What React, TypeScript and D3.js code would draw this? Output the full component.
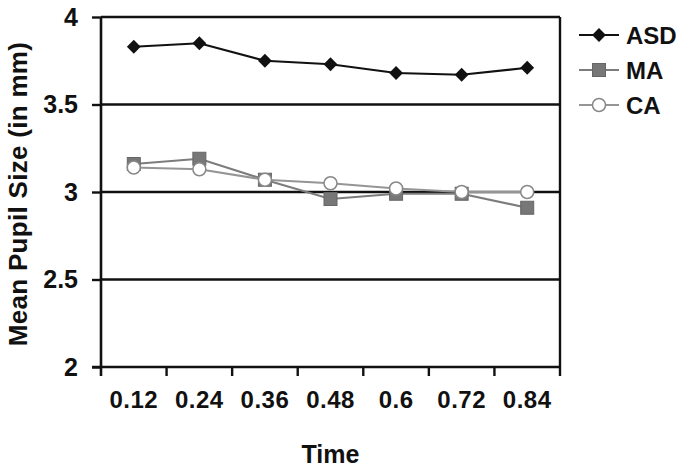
import React, { useRef, useEffect } from 'react';
import * as d3 from 'd3';

const times = ['0.12', '0.24', '0.36', '0.48', '0.6', '0.72', '0.84'];
const asd = [3.83, 3.85, 3.75, 3.73, 3.68, 3.67, 3.71];
const ma = [3.16, 3.19, 3.07, 2.96, 2.99, 2.99, 2.91];
const ca = [3.14, 3.13, 3.07, 3.05, 3.02, 3.0, 3.0];
const yTicks = [2, 2.5, 3, 3.5, 4];
const seriesNames = ['ASD', 'MA', 'CA'];

const W = 685;
const H = 471;
const margin = { left: 101, right: 125, top: 17, bottom: 104 };
const FONT = 'Arial, "Liberation Sans", Helvetica, sans-serif';

const App = () => {
    const chartRef = useRef<SVGSVGElement | null>(null);

    useEffect(() => {
        const svg = d3.select(chartRef.current);
        svg.selectAll('*').remove();

        const x = d3.scaleBand<string>()
            .domain(times)
            .range([margin.left, W - margin.right])
            .padding(0);

        const y = d3.scaleLinear()
            .domain([2, 4])
            .range([H - margin.bottom, margin.top]);

        const cx = (t: string) => (x(t) as number) + x.bandwidth() / 2;

        // gridlines + right border
        svg.append('g')
            .selectAll('line')
            .data(yTicks.filter(t => t > 2))
            .join('line')
            .attr('x1', margin.left)
            .attr('x2', W - margin.right)
            .attr('y1', d => y(d))
            .attr('y2', d => y(d))
            .attr('stroke', '#111')
            .attr('stroke-width', 2.4);

        svg.append('line')
            .attr('x1', W - margin.right)
            .attr('x2', W - margin.right)
            .attr('y1', y(4))
            .attr('y2', y(2) + 9)
            .attr('stroke', '#111')
            .attr('stroke-width', 2.4);

        // y axis
        const yAxis = svg.append('g')
            .attr('transform', `translate(${margin.left},0)`)
            .call(d3.axisLeft(y).tickValues(yTicks).tickSize(9).tickPadding(14)
                .tickFormat(d => String(d)));
        yAxis.select('.domain')
            .attr('d', `M0,${y(4)}V${y(2) + 9}`)
            .attr('stroke', '#111')
            .attr('stroke-width', 2.6);
        yAxis.selectAll('.tick line').attr('stroke', '#111').attr('stroke-width', 2.4);
        yAxis.selectAll('.tick text')
            .attr('fill', '#111')
            .style('font', `bold 25px ${FONT}`);

        // x axis
        const xAxis = svg.append('g')
            .attr('transform', `translate(0,${y(2)})`)
            .call(d3.axisBottom(x).tickSize(0).tickPadding(24));
        xAxis.select('.domain')
            .attr('d', `M${margin.left - 9},0H${W - margin.right}`)
            .attr('stroke', '#111')
            .attr('stroke-width', 2.6);
        xAxis.selectAll('.tick text')
            .attr('fill', '#111')
            .attr('dy', '0.71em')
            .style('font', `bold 24px ${FONT}`)
            .style('letter-spacing', '0.5px');

        // boundary ticks between categories
        const bounds = times.map(t => x(t) as number).slice(1);
        svg.append('g')
            .selectAll('line')
            .data(bounds)
            .join('line')
            .attr('x1', d => d)
            .attr('x2', d => d)
            .attr('y1', y(2))
            .attr('y2', y(2) + 9)
            .attr('stroke', '#111')
            .attr('stroke-width', 2.4);

        // axis titles
        svg.append('text')
            .attr('x', (margin.left + W - margin.right) / 2)
            .attr('y', 463)
            .attr('text-anchor', 'middle')
            .attr('fill', '#111')
            .style('font', `bold 25px ${FONT}`)
            .text('Time');

        svg.append('text')
            .attr('transform', `translate(27,${(45 + 343) / 2}) rotate(-90)`)
            .attr('text-anchor', 'middle')
            .attr('fill', '#111')
            .style('font', `bold 26px ${FONT}`)
            .style('letter-spacing', '0.3px')
            .text('Mean Pupil Size (in mm)');

        const line = d3.line<number>()
            .x((d, i) => cx(times[i]))
            .y(d => y(d));

        const styles = [
            { data: asd, stroke: '#111', width: 2.2 },
            { data: ma, stroke: '#7c7c7c', width: 2.2 },
            { data: ca, stroke: '#959595', width: 2.2 },
        ];

        styles.forEach(s => {
            svg.append('path')
                .datum(s.data)
                .attr('d', line)
                .attr('fill', 'none')
                .attr('stroke', s.stroke)
                .attr('stroke-width', s.width);
        });

        const diamond = d3.symbol().type(d3.symbolSquare).size(95)();
        const drawMarker = (g: any, name: string) => {
            if (name === 'ASD') {
                g.append('path')
                    .attr('d', diamond)
                    .attr('transform', 'rotate(45)')
                    .attr('fill', '#111');
            } else if (name === 'MA') {
                g.append('rect')
                    .attr('x', -6.5).attr('y', -6.5)
                    .attr('width', 13).attr('height', 13)
                    .attr('fill', '#777')
                    .attr('stroke', '#666');
            } else {
                g.append('circle')
                    .attr('r', 6.5)
                    .attr('fill', '#fff')
                    .attr('stroke', '#888')
                    .attr('stroke-width', 1.5);
            }
        };

        [asd, ma, ca].forEach((data, si) => {
            data.forEach((v, i) => {
                const g = svg.append('g').attr('transform', `translate(${cx(times[i])},${y(v)})`);
                drawMarker(g, seriesNames[si]);
            });
        });

        // legend
        const legend = svg.append('g');
        seriesNames.forEach((name, i) => {
            const ly = 35 + i * 35;
            legend.append('line')
                .attr('x1', 579).attr('x2', 619)
                .attr('y1', ly).attr('y2', ly)
                .attr('stroke', styles[i].stroke)
                .attr('stroke-width', 2.2);
            const g = legend.append('g').attr('transform', `translate(599,${ly})`);
            drawMarker(g, name);
            legend.append('text')
                .attr('x', 626)
                .attr('y', ly)
                .attr('dy', '0.36em')
                .attr('fill', '#111')
                .style('font', `bold 24px ${FONT}`)
                .text(name);
        });
    }, []);

    return (
        <svg
            ref={chartRef}
            width={W}
            height={H}
            style={{ position: 'absolute', left: 0, top: 0, background: 'white', display: 'block' }}
        />
    );
};

export default App;
